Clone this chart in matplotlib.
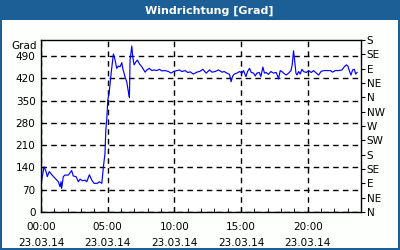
import matplotlib
matplotlib.use("Agg")
import matplotlib.pyplot as plt
from matplotlib.patches import Rectangle
from matplotlib.ticker import MultipleLocator

title = "Windrichtung [Grad]"
y_unit = "Grad"
hours = [0.05, 0.23, 0.38, 0.47, 0.62, 0.83, 1.05, 1.30, 1.43, 1.50, 1.55, 1.67, 1.80, 2.05, 2.30,
         2.42, 2.63, 2.80, 2.93, 3.13, 3.30, 3.43, 3.63, 3.81, 3.98, 4.23, 4.38, 4.56, 4.68, 4.80,
         4.86, 4.93, 5.01, 5.11, 5.18, 5.26, 5.38, 5.43, 5.53, 5.68, 5.80, 5.93, 6.06, 6.13, 6.31,
         6.43, 6.55, 6.63, 6.68, 6.81, 6.88, 6.98, 7.13, 7.23, 7.38, 7.56, 7.81, 7.94, 8.13, 8.31,
         8.48, 8.69, 8.88, 9.06, 9.31, 9.56, 9.76, 9.93, 10.19, 10.38, 10.56, 10.81, 11.01, 11.19,
         11.43, 11.69, 11.94, 12.14, 12.39, 12.64, 12.82, 13.06, 13.31, 13.57, 13.74, 13.94, 14.14,
         14.26, 14.36, 14.49, 14.69, 14.89, 15.07, 15.19, 15.37, 15.49, 15.64, 15.77, 15.94, 16.07,
         16.19, 16.37, 16.49, 16.64, 16.76, 16.89, 17.06, 17.24, 17.44, 17.64, 17.82, 17.94, 18.07,
         18.19, 18.39, 18.57, 18.75, 18.84, 18.94, 19.02, 19.12, 19.20, 19.32, 19.44, 19.57, 19.69,
         19.89, 20.07, 20.27, 20.44, 20.65, 20.82, 21.00, 21.19, 21.45, 21.70, 21.87, 22.07, 22.32,
         22.57, 22.75, 22.90, 23.02, 23.12, 23.25, 23.37, 23.50, 23.60, 23.70]
direction = [100, 142, 127, 111, 127, 116, 106, 95, 79, 95, 74, 111, 116, 116, 130,
             113, 111, 95, 103, 98, 100, 95, 117, 100, 90, 90, 95, 90, 142, 184,
             257, 289, 352, 373, 404, 436, 477, 496, 482, 451, 458, 456, 469, 451, 423,
             409, 378, 360, 477, 521, 488, 462, 472, 477, 465, 456, 439, 446, 451, 444,
             446, 444, 448, 443, 444, 441, 436, 441, 444, 446, 441, 444, 438, 440,
             433, 439, 442, 448, 436, 446, 439, 441, 446, 439, 441, 436, 432,
             409, 425, 433, 436, 441, 436, 444, 425, 441, 451, 438, 436, 427,
             436, 438, 425, 455, 436, 438, 432, 441, 436, 438, 418, 444, 441,
             436, 430, 436, 444, 462, 506, 477, 436, 430, 441, 433, 448, 441,
             438, 444, 438, 444, 436, 430, 441, 444, 444, 444, 439, 444, 444,
             446, 456, 462, 458, 444, 430, 446, 448, 433, 438]
y_ticks = [0, 70, 140, 210, 280, 350, 420, 490]
compass_vals = [0, 45, 90, 135, 180, 225, 270, 315, 360, 405, 450, 495, 540]
compass_labels = ["N", "NE", "E", "SE", "S", "SW", "W", "NW", "N", "NE", "E", "SE", "S"]
x_ticks = [0, 5, 10, 15, 20]
x_labels = ["00:00\n23.03.14", "05:00\n23.03.14", "10:00\n23.03.14", "15:00\n23.03.14", "20:00\n23.03.14"]

blue = "#1B5F96"
bg = "#FCFFFC"
fs = 7.5

fig = plt.figure(figsize=(4, 2.5), dpi=100)
fig.patch.set_facecolor(blue)
# inner background
fig.patches.append(Rectangle((2 / 400, 2 / 250), 396 / 400, (250 - 2 - 20) / 250,
                             transform=fig.transFigure, facecolor=bg, edgecolor="none", zorder=-10))
fig.text(209 / 400, 1 - 10.5 / 250, title, color="white", fontsize=8, fontweight="bold",
         ha="center", va="center")

ax = fig.add_axes([41 / 400, 38 / 250, 320 / 400, 172 / 250])
ax.set_facecolor("white")
ax.plot(hours, direction, color="#0000FF", lw=0.85)
ax.set_xlim(0, 24)
ax.set_ylim(0, 540)
ax.set_yticks(y_ticks)
ax.set_yticklabels([str(v) for v in y_ticks], fontsize=fs)
ax.tick_params(axis="y", length=0, pad=4)
ax.set_xticks(x_ticks)
ax.set_xticklabels(x_labels, fontsize=fs, linespacing=1.75)
ax.xaxis.set_minor_locator(MultipleLocator(1))
ax.tick_params(axis="x", which="both", direction="in", length=3, pad=7)
ax.grid(True, which="major", color="black", linestyle=(0, (4, 3)), lw=1)
for s in ax.spines.values():
    s.set_color("black")
    s.set_linewidth(1)
ax.text(-0.012, 0.963, y_unit, transform=ax.transAxes, ha="right", va="center", fontsize=fs)

ax2 = ax.twinx()
ax2.set_ylim(0, 540)
ax2.set_yticks(compass_vals)
ax2.set_yticklabels(compass_labels, fontsize=fs)
ax2.tick_params(axis="y", direction="out", length=3, pad=1)
for s in ax2.spines.values():
    s.set_visible(False)

fig.savefig("out.png", dpi=100, facecolor=fig.get_facecolor())
